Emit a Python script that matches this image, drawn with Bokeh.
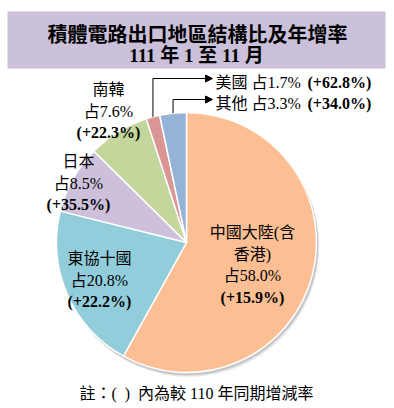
import math
from bokeh.plotting import figure
from bokeh.models import Range1d, Arrow, NormalHead, ColumnDataSource
from bokeh.core.properties import value
from bokeh.embed import file_html
from bokeh.resources import INLINE

# ---- data ----
regions = ["中國大陸(含香港)", "東協十國", "日本", "南韓", "美國", "其他"]
shares = [58.0, 20.8, 8.5, 7.6, 1.7, 3.3]
growth = [15.9, 22.2, 35.5, 22.3, 62.8, 34.0]
colors = ["#FCBF94", "#92CDDC", "#CCC0DA", "#C3D69B", "#DA9694", "#95B3D7"]
title_lines = ["積體電路出口地區結構比及年增率", "111 年 1 至 11 月"]
note = "註：(\u2002)\u2002內為較 110 年同期增減率"

W, H = 394, 408
FONT = value("Liberation Serif, Noto Sans CJK TC")


def Y(v):
    return H - v


p = figure(width=W, height=H, output_backend="svg", toolbar_location=None,
           x_range=Range1d(0, W), y_range=Range1d(0, H), min_border=0)
p.axis.visible = False
p.grid.visible = False
p.outline_line_color = None
p.background_fill_color = "white"

# title box
p.quad(left=[7], right=[385], top=[Y(11)], bottom=[Y(68)],
       fill_color="#CBC0DA", line_color=None)
p.text(x=[197], y=[Y(34)], text=[title_lines[0]], text_font=FONT,
       text_font_size="20px", text_font_style="bold", text_align="center",
       text_baseline="middle", text_color="black")
p.text(x=[196], y=[Y(55)], text=[title_lines[1]], text_font=FONT,
       text_font_size="19px", text_font_style="bold", text_align="center",
       text_baseline="middle", text_color="black")

# pie
cx, cy, R = 186, Y(242), 130
total = sum(shares)
cum = [0.0]
for s in shares:
    cum.append(cum[-1] + s / total)
starts = [math.pi / 2 - 2 * math.pi * c for c in cum[:-1]]
ends = [math.pi / 2 - 2 * math.pi * c for c in cum[1:]]

# soft shadow
for off, a in [(4, 0.10), (3, 0.14), (2, 0.18)]:
    p.circle(x=cx + off * 0.6, y=cy - off, radius=R + 0.5, fill_color="#606060",
             fill_alpha=a, line_color=None)

src = ColumnDataSource(dict(start=starts, end=ends, color=colors))
p.wedge(x=cx, y=cy, radius=R, start_angle="start", end_angle="end",
        direction="clock", fill_color="color", line_color="white",
        line_width=1.5, source=src)


def pct(v):
    return f"占{v:.1f}%"


def gr(v):
    return f"(+{v:.1f}%)"


label_specs = [
    # (index, name lines, center x, first line Y)
    (0, ["中國大陸(含", "香港)"], 252, 232),
    (1, ["東協十國"], 99, 258),
    (2, ["日本"], 78, 161),
    (3, ["南韓"], 108, 89),
]
step = 21.5
for idx, names, lx, ly in label_specs:
    lines = names + [pct(shares[idx])]
    ys = [Y(ly + i * step) for i in range(len(lines))]
    p.text(x=[lx] * len(lines), y=ys, text=lines, text_font=FONT,
           text_font_size="16px", text_align="center", text_baseline="middle",
           text_color="black")
    p.text(x=[lx], y=[Y(ly + len(lines) * step)], text=[gr(growth[idx])],
           text_font=FONT, text_font_size="16px", text_font_style="bold",
           text_align="center", text_baseline="middle", text_color="black")

# leader labels for small slices
leader_specs = [(4, 78, 82), (5, 99, 103)]
for idx, lineY, textY in leader_specs:
    mid = (cum[idx] + cum[idx + 1]) / 2
    a = math.pi / 2 - 2 * math.pi * mid
    ex, ey = cx + R * math.cos(a), cy + R * math.sin(a)
    p.line(x=[ex, ex], y=[ey, Y(lineY)], line_color="black", line_width=1)
    p.add_layout(Arrow(end=NormalHead(size=7, fill_color="black", line_color="black"),
                       x_start=ex, y_start=Y(lineY), x_end=212, y_end=Y(lineY),
                       line_color="black", line_width=1))
    p.text(x=[215], y=[Y(textY)], text=[f"{regions[idx]} {pct(shares[idx])}"],
           text_font=FONT, text_font_size="16px", text_align="left",
           text_baseline="middle", text_color="black")
    p.text(x=[307], y=[Y(textY)], text=[gr(growth[idx])], text_font=FONT,
           text_font_size="16px", text_font_style="bold", text_align="left",
           text_baseline="middle", text_color="black")

# footnote
p.text(x=[196], y=[Y(393)], text=[note], text_font=FONT, text_font_size="16px",
       text_align="center", text_baseline="middle", text_color="black")

open("out.html", "w").write(file_html(p, INLINE))
